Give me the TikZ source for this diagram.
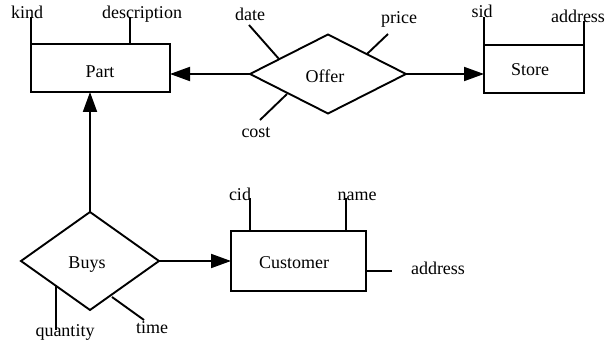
\documentclass[tikz,border=0pt]{standalone}
\usepackage{fontspec}
\setmainfont{Liberation Serif}
\usetikzlibrary{shapes.geometric,arrows.meta}
\begin{document}
\begin{tikzpicture}[x=1pt,y=-1pt,
  lw/.style={line width=1.9pt},
  entity/.style={draw,lw,rectangle,inner sep=0pt,outer sep=0pt},
  rel/.style={draw,lw,diamond,inner sep=0pt,outer sep=0pt},
  lbl/.style={anchor=base,inner sep=0pt,font=\fontsize{18}{20}\selectfont},
  arr/.style={lw,-{Triangle[length=20pt,width=14pt]}},
  attr/.style={lw}]
\useasboundingbox (0,0) rectangle (616,344);
% entities
\node[entity,minimum width=139pt,minimum height=48pt] (Part) at (100.5,68) {};
\node[entity,minimum width=100pt,minimum height=48pt] (Store) at (534,69) {};
\node[entity,minimum width=135pt,minimum height=60pt] (Customer) at (298.5,261) {};
% relationships
\node[rel,minimum width=156pt,minimum height=79pt] (Offer) at (328,74) {};
\node[rel,minimum width=138pt,minimum height=98pt] (Buys) at (90,261) {};
% main labels
\node[lbl] (tPart) at (100,78) {Part};
\node[lbl] (tStore) at (530,76) {Store};
\node[lbl] (tCustomer) at (294,269) {Customer};
\node[lbl] (tOffer) at (325,83) {Offer};
\node[lbl] (tBuys) at (87,269) {Buys};
% connectors
\draw[arr] (Offer.west) -- (Offer.west -| Part.east);
\draw[arr] (Offer.east) -- (Offer.east -| Store.west);
\draw[arr] (Buys.north) -- (Buys.north |- Part.south);
\draw[arr] (Buys.east) -- (Buys.east -| Customer.west);
% attribute end points
\coordinate (kindE) at (31,17);
\coordinate (descE) at (130,17);
\coordinate (sidE) at (484,17);
\coordinate (saddrE) at (584,21);
\coordinate (dateS) at (279,59);
\coordinate (dateE) at (249,25);
\coordinate (priceS) at (367,54);
\coordinate (priceE) at (388,34);
\coordinate (costS) at (287,94);
\coordinate (costE) at (260,120);
\coordinate (qtyS) at (56,285);
\coordinate (qtyE) at (56,330);
\coordinate (timeS) at (112,297);
\coordinate (timeE) at (144,320);
\coordinate (cidE) at (250,198);
\coordinate (nameE) at (346,198);
\coordinate (caddrE) at (392,271);
% attribute lines
\draw[attr] (Part.north west) -- (kindE);
\draw[attr] (Part.north west -| descE) -- (descE);
\draw[attr] (Store.north west) -- (sidE);
\draw[attr] (Store.north east) -- (saddrE);
\draw[attr] (dateS) -- (dateE);
\draw[attr] (priceS) -- (priceE);
\draw[attr] (costS) -- (costE);
\draw[attr] (qtyS) -- (qtyE);
\draw[attr] (timeS) -- (timeE);
\draw[attr] (Customer.north west -| cidE) -- (cidE);
\draw[attr] (Customer.north west -| nameE) -- (nameE);
\draw[attr] (Customer.east |- caddrE) -- (caddrE);
% attribute labels
\node[lbl] (lkind) at (27,19) {kind};
\node[lbl] (ldesc) at (142,19) {description};
\node[lbl] (lsid) at (482,18) {sid};
\node[lbl] (lsaddr) at (578,23) {address};
\node[lbl] (ldate) at (250,21) {date};
\node[lbl] (lprice) at (399,24) {price};
\node[lbl] (lcost) at (256,138) {cost};
\node[lbl] (lqty) at (65,337) {quantity};
\node[lbl] (ltime) at (152,334) {time};
\node[lbl] (lcid) at (240,201) {cid};
\node[lbl] (lname) at (357,201) {name};
\node[lbl] (lcaddr) at (438,275) {address};
\end{tikzpicture}
\end{document}
